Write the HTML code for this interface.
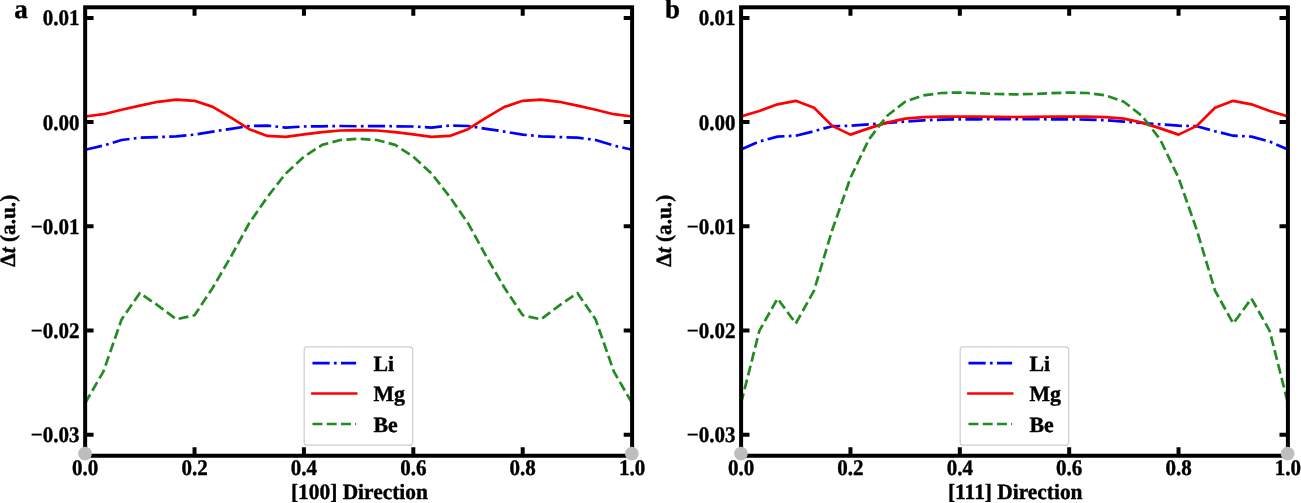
<!DOCTYPE html>
<html lang="en"><head><meta charset="utf-8"><title>Figure</title>
<style>html,body{margin:0;padding:0;background:#fff}svg{display:block}text{font-family:"Liberation Serif", "Times New Roman", serif;font-weight:bold;font-size:21.8px;fill:#000;stroke:#000;stroke-width:.4px;stroke-linejoin:round}svg{text-rendering:geometricPrecision;-webkit-font-smoothing:antialiased}svg{will-change:transform}</style></head><body>
<svg width="1301" height="503" viewBox="0 0 1301 503">
<rect width="1301" height="503" fill="#fff"/>
<g id="panel-a">
<clipPath id="clip0"><rect x="85.15" y="7.3" width="546.95" height="448.45"/></clipPath>
<g clip-path="url(#clip0)" fill="none" stroke-width="2.7" stroke-linejoin="round">
<path d="M85.15,149.75 L103.38,145.60 L121.61,140.00 L139.85,137.70 L158.08,137.10 L176.31,136.40 L194.54,134.60 L212.77,131.60 L231.00,128.80 L249.24,126.00 L267.47,125.60 L285.70,127.60 L303.93,126.50 L322.16,126.30 L340.39,126.00 L358.62,126.30 L376.86,126.00 L395.09,126.30 L413.32,126.50 L431.55,127.60 L449.78,125.60 L468.01,126.00 L486.25,128.80 L504.48,131.60 L522.71,134.60 L540.94,136.40 L559.17,137.10 L577.41,137.70 L595.64,140.00 L613.87,145.60 L632.10,149.75" stroke="#0000ff" stroke-dasharray="17.22 4.30 2.69 4.30"/>
<path d="M85.15,116.50 L103.38,114.20 L121.61,109.80 L139.85,105.60 L158.08,101.80 L176.31,99.70 L194.54,100.80 L212.77,106.90 L231.00,117.60 L249.24,129.20 L267.47,135.90 L285.70,136.80 L303.93,134.30 L322.16,132.10 L340.39,130.50 L358.62,130.10 L376.86,130.50 L395.09,132.10 L413.32,134.30 L431.55,136.80 L449.78,135.90 L468.01,129.20 L486.25,117.60 L504.48,106.90 L522.71,100.80 L540.94,99.70 L559.17,101.80 L577.41,105.60 L595.64,109.80 L613.87,114.20 L632.10,116.50" stroke="#ff0000"/>
<path d="M85.15,403.10 L103.38,371.60 L121.61,319.40 L139.85,293.10 L158.08,305.60 L176.31,319.30 L194.54,315.30 L212.77,287.70 L231.00,256.50 L249.24,223.20 L267.47,196.90 L285.70,173.50 L303.93,156.80 L322.16,144.90 L340.39,140.00 L358.62,138.70 L376.86,140.00 L395.09,144.90 L413.32,156.80 L431.55,173.50 L449.78,196.90 L468.01,223.20 L486.25,256.50 L504.48,287.70 L522.71,315.30 L540.94,319.30 L559.17,305.60 L577.41,293.10 L595.64,319.40 L613.87,371.60 L632.10,403.10" stroke="#228b22" stroke-dasharray="9.95 4.30"/>
</g>
<path d="M194.54,455.75 v-8.4 M194.54,7.3 v8.4 M303.93,455.75 v-8.4 M303.93,7.3 v8.4 M413.32,455.75 v-8.4 M413.32,7.3 v8.4 M522.71,455.75 v-8.4 M522.71,7.3 v8.4 M85.15,17.90 h8.4 M632.1,17.90 h-8.4 M85.15,122.10 h8.4 M632.1,122.10 h-8.4 M85.15,226.30 h8.4 M632.1,226.30 h-8.4 M85.15,330.50 h8.4 M632.1,330.50 h-8.4 M85.15,434.70 h8.4 M632.1,434.70 h-8.4" stroke="#000" stroke-width="4.0" fill="none"/>
<rect x="85.15" y="7.3" width="546.95" height="448.45" fill="none" stroke="#000" stroke-width="4.0"/>
<text transform="translate(85.15,474.9) scale(0.965,1.02)" text-anchor="middle">0.0</text>
<text transform="translate(194.54,474.9) scale(0.965,1.02)" text-anchor="middle">0.2</text>
<text transform="translate(303.93,474.9) scale(0.965,1.02)" text-anchor="middle">0.4</text>
<text transform="translate(413.32,474.9) scale(0.965,1.02)" text-anchor="middle">0.6</text>
<text transform="translate(522.71,474.9) scale(0.965,1.02)" text-anchor="middle">0.8</text>
<text transform="translate(632.10,474.9) scale(0.965,1.02)" text-anchor="middle">1.0</text>
<text transform="translate(79.55,25.35) scale(0.965,1.02)" text-anchor="end">0.01</text>
<text transform="translate(79.55,129.55) scale(0.965,1.02)" text-anchor="end">0.00</text>
<text transform="translate(79.55,233.75) scale(0.965,1.02)" text-anchor="end">−0.01</text>
<text transform="translate(79.55,337.95) scale(0.965,1.02)" text-anchor="end">−0.02</text>
<text transform="translate(79.55,442.15) scale(0.965,1.02)" text-anchor="end">−0.03</text>
<text transform="translate(359.38,498.7) scale(0.982,1)" text-anchor="middle">[100] Direction</text>
<text transform="translate(15.05,230.68) rotate(-90) scale(0.977,1)" text-anchor="middle">Δ<tspan font-style="italic">t</tspan> (a.u.)</text>
<text x="14.15" y="17.7" style="font-size:27px">a</text>
<rect x="304.2" y="346.8" width="108.5" height="98.4" rx="3.3" ry="3.3" fill="#fff" fill-opacity="0.8" stroke="#cecece" stroke-width="1.25"/>
<path d="M312.45,363.1 H356.10" stroke="#0000ff" stroke-width="2.7" fill="none" stroke-dasharray="17.22 4.30 2.69 4.30"/>
<text x="373.40" y="370.70">Li</text>
<path d="M312.45,393.5 H356.10" stroke="#ff0000" stroke-width="2.7" fill="none" stroke-linecap="square"/>
<text x="373.40" y="401.10">Mg</text>
<path d="M312.45,424.0 H356.10" stroke="#228b22" stroke-width="2.7" fill="none" stroke-dasharray="9.95 4.30"/>
<text x="373.40" y="431.60">Be</text>
<circle cx="85.00" cy="453.6" r="6.9" fill="#bebebe"/>
<circle cx="631.80" cy="453.6" r="6.9" fill="#bebebe"/>
</g>
<g id="panel-b">
<clipPath id="clip1"><rect x="741.1" y="7.3" width="546.80" height="448.45"/></clipPath>
<g clip-path="url(#clip1)" fill="none" stroke-width="2.7" stroke-linejoin="round">
<path d="M741.10,149.50 L759.33,141.50 L777.55,136.60 L795.78,135.70 L814.01,131.20 L832.23,126.20 L850.46,125.70 L868.69,124.40 L886.91,123.00 L905.14,121.60 L923.37,120.30 L941.59,119.60 L959.82,119.40 L978.05,119.30 L996.27,119.20 L1014.50,119.20 L1032.73,119.20 L1050.95,119.30 L1069.18,119.40 L1087.41,119.60 L1105.63,120.30 L1123.86,121.60 L1142.09,123.00 L1160.31,124.40 L1178.54,125.70 L1196.77,126.20 L1214.99,131.20 L1233.22,135.70 L1251.45,136.60 L1269.67,141.50 L1287.90,149.50" stroke="#0000ff" stroke-dasharray="17.22 4.30 2.69 4.30"/>
<path d="M741.10,116.50 L759.33,111.00 L777.55,104.30 L795.78,100.80 L814.01,107.80 L832.23,125.90 L850.46,134.60 L868.69,128.40 L886.91,122.60 L905.14,118.60 L923.37,117.20 L941.59,116.70 L959.82,116.60 L978.05,116.70 L996.27,116.90 L1014.50,117.00 L1032.73,116.90 L1050.95,116.70 L1069.18,116.60 L1087.41,116.70 L1105.63,117.20 L1123.86,118.60 L1142.09,122.60 L1160.31,128.40 L1178.54,134.60 L1196.77,125.90 L1214.99,107.80 L1233.22,100.80 L1251.45,104.30 L1269.67,111.00 L1287.90,116.50" stroke="#ff0000"/>
<path d="M741.10,403.00 L759.33,330.90 L777.55,298.50 L795.78,323.50 L814.01,290.60 L832.23,230.00 L850.46,177.80 L868.69,139.70 L886.91,116.00 L905.14,101.70 L923.37,95.30 L941.59,93.00 L959.82,92.50 L978.05,93.20 L996.27,94.00 L1014.50,94.40 L1032.73,94.00 L1050.95,93.20 L1069.18,92.50 L1087.41,93.00 L1105.63,95.30 L1123.86,101.70 L1142.09,116.00 L1160.31,139.70 L1178.54,177.80 L1196.77,230.00 L1214.99,290.60 L1233.22,323.50 L1251.45,298.50 L1269.67,330.90 L1287.90,403.00" stroke="#228b22" stroke-dasharray="9.95 4.30"/>
</g>
<path d="M850.46,455.75 v-8.4 M850.46,7.3 v8.4 M959.82,455.75 v-8.4 M959.82,7.3 v8.4 M1069.18,455.75 v-8.4 M1069.18,7.3 v8.4 M1178.54,455.75 v-8.4 M1178.54,7.3 v8.4 M741.1,17.90 h8.4 M1287.9,17.90 h-8.4 M741.1,122.10 h8.4 M1287.9,122.10 h-8.4 M741.1,226.30 h8.4 M1287.9,226.30 h-8.4 M741.1,330.50 h8.4 M1287.9,330.50 h-8.4 M741.1,434.70 h8.4 M1287.9,434.70 h-8.4" stroke="#000" stroke-width="4.0" fill="none"/>
<rect x="741.1" y="7.3" width="546.80" height="448.45" fill="none" stroke="#000" stroke-width="4.0"/>
<text transform="translate(741.10,474.9) scale(0.965,1.02)" text-anchor="middle">0.0</text>
<text transform="translate(850.46,474.9) scale(0.965,1.02)" text-anchor="middle">0.2</text>
<text transform="translate(959.82,474.9) scale(0.965,1.02)" text-anchor="middle">0.4</text>
<text transform="translate(1069.18,474.9) scale(0.965,1.02)" text-anchor="middle">0.6</text>
<text transform="translate(1178.54,474.9) scale(0.965,1.02)" text-anchor="middle">0.8</text>
<text transform="translate(1287.90,474.9) scale(0.965,1.02)" text-anchor="middle">1.0</text>
<text transform="translate(735.50,25.35) scale(0.965,1.02)" text-anchor="end">0.01</text>
<text transform="translate(735.50,129.55) scale(0.965,1.02)" text-anchor="end">0.00</text>
<text transform="translate(735.50,233.75) scale(0.965,1.02)" text-anchor="end">−0.01</text>
<text transform="translate(735.50,337.95) scale(0.965,1.02)" text-anchor="end">−0.02</text>
<text transform="translate(735.50,442.15) scale(0.965,1.02)" text-anchor="end">−0.03</text>
<text transform="translate(1015.25,498.7) scale(0.982,1)" text-anchor="middle">[111] Direction</text>
<text transform="translate(671.00,230.68) rotate(-90) scale(0.977,1)" text-anchor="middle">Δ<tspan font-style="italic">t</tspan> (a.u.)</text>
<text x="665.05" y="17.7" style="font-size:27px">b</text>
<rect x="960.2" y="346.8" width="108.5" height="98.4" rx="3.3" ry="3.3" fill="#fff" fill-opacity="0.8" stroke="#cecece" stroke-width="1.25"/>
<path d="M968.45,363.1 H1012.10" stroke="#0000ff" stroke-width="2.7" fill="none" stroke-dasharray="17.22 4.30 2.69 4.30"/>
<text x="1029.40" y="370.70">Li</text>
<path d="M968.45,393.5 H1012.10" stroke="#ff0000" stroke-width="2.7" fill="none" stroke-linecap="square"/>
<text x="1029.40" y="401.10">Mg</text>
<path d="M968.45,424.0 H1012.10" stroke="#228b22" stroke-width="2.7" fill="none" stroke-dasharray="9.95 4.30"/>
<text x="1029.40" y="431.60">Be</text>
<circle cx="740.95" cy="453.6" r="6.9" fill="#bebebe"/>
<circle cx="1287.60" cy="453.6" r="6.9" fill="#bebebe"/>
</g>
</svg></body></html>
